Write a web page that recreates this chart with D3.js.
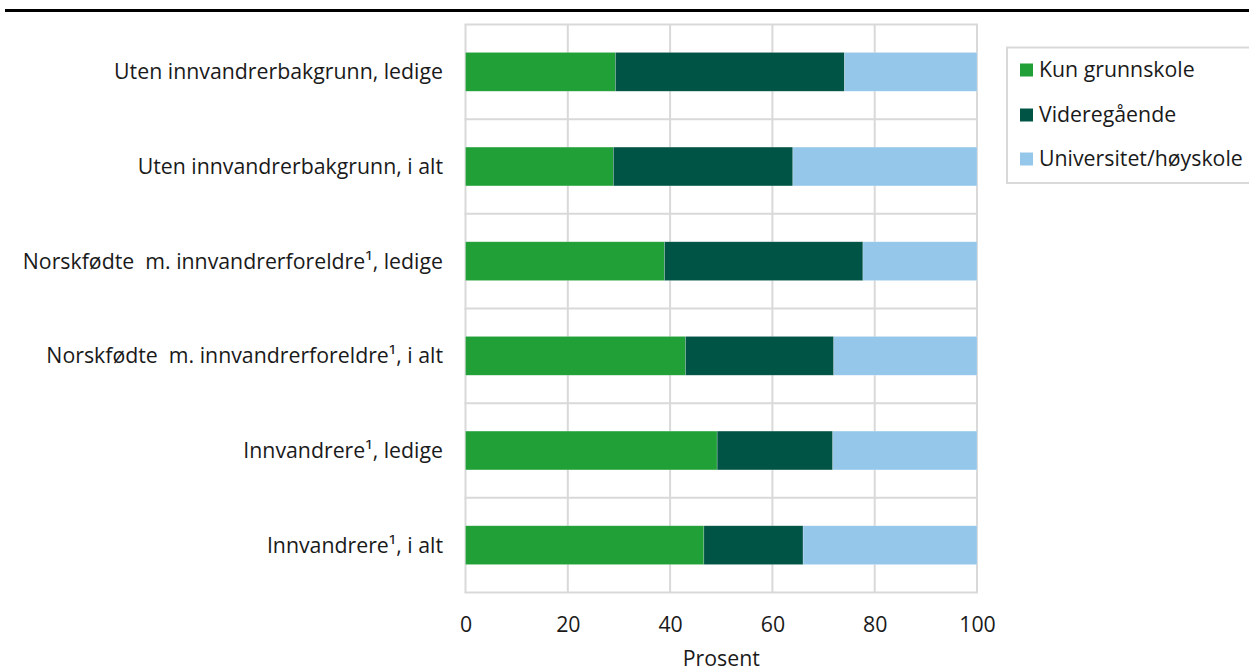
<!DOCTYPE html>
<html>
<head>
<meta charset="utf-8">
<script src="https://cdn.jsdelivr.net/npm/d3@7"></script>
<style>
  html, body { margin: 0; padding: 0; background: #fff; }
  svg { display: block; font-family: "Open Sans", sans-serif; }
  text { white-space: pre; }
</style>
</head>
<body>
<svg id="chart" width="1249" height="671"></svg>
<script>
const categories = [
  "Uten innvandrerbakgrunn, ledige",
  "Uten innvandrerbakgrunn, i alt",
  "Norskfødte  m. innvandrerforeldre¹, ledige",
  "Norskfødte  m. innvandrerforeldre¹, i alt",
  "Innvandrere¹, ledige",
  "Innvandrere¹, i alt"
];
const seriesNames = ["Kun grunnskole", "Videregående", "Universitet/høyskole"];
const kunGrunnskole = [29.3, 28.9, 38.9, 43.0, 49.2, 46.6];
const videregaende  = [44.8, 35.1, 38.8, 29.0, 22.6, 19.4];
const universitet   = [25.9, 36.0, 22.3, 28.0, 28.2, 34.0];
const xTicks = [0, 20, 40, 60, 80, 100];
const colors = ["#21a038", "#005445", "#95c7eb"];

(function () {
const svg = d3.select("#chart");
const pLeft = 465.5, pRight = 977, pTop = 24.5, pBottom = 592.5;
const fs = 21.3;

svg.append("line").attr("x1", 5).attr("x2", 1249).attr("y1", 10.5).attr("y2", 10.5)
  .attr("stroke", "#000").attr("stroke-width", 3);

const x = d3.scaleLinear().domain([0, 100]).range([pLeft, pRight]);
const y = d3.scaleBand().domain(categories).range([pTop, pBottom])
  .paddingInner(0.59).paddingOuter(0.295);
const step = y.step();

const data = categories.map((c, i) => ({cat: c, vals: [kunGrunnskole[i], videregaende[i], universitet[i]]}));
const stack = d3.stack().keys([0, 1, 2]).value((d, k) => d.vals[k]);
const stacked = stack(data);

const grid = svg.append("g");
grid.selectAll("line.v").data(xTicks).join("line")
  .attr("class", "v")
  .attr("x1", d => x(d)).attr("x2", d => x(d))
  .attr("y1", pTop).attr("y2", pBottom)
  .attr("stroke", "#d9d9d9").attr("stroke-width", 2);
const bounds = d3.range(categories.length + 1).map(i => pTop + i * step);
grid.selectAll("line.h").data(bounds).join("line")
  .attr("class", "h")
  .attr("x1", pLeft - 1).attr("x2", pRight + 1)
  .attr("y1", d => d).attr("y2", d => d)
  .attr("stroke", "#d9d9d9").attr("stroke-width", 2);

svg.append("g").selectAll("g").data(stacked).join("g")
  .attr("fill", (d, i) => colors[i])
  .selectAll("rect").data(d => d).join("rect")
  .attr("x", d => x(d[0]))
  .attr("width", d => x(d[1]) - x(d[0]))
  .attr("y", d => y(d.data.cat))
  .attr("height", y.bandwidth())
  .attr("stroke", "rgba(255,255,255,0.35)")
  .attr("stroke-width", 0.6);

svg.append("g").selectAll("text").data(categories).join("text")
  .attr("x", 443)
  .attr("y", d => y(d) + y.bandwidth() / 2)
  .attr("dy", "0.35em")
  .attr("text-anchor", "end")
  .attr("font-size", fs)
  .attr("fill", "#1a1a1a")
  .text(d => d);

const xAxis = d3.axisBottom(x).tickValues(xTicks).tickSize(0).tickPadding(0);
const ax = svg.append("g").attr("transform", `translate(0,${pBottom})`).call(xAxis);
ax.select(".domain").remove();
ax.selectAll("text")
  .attr("font-family", "Open Sans, sans-serif")
  .attr("font-size", fs)
  .attr("fill", "#1a1a1a")
  .attr("y", 39.5)
  .attr("dy", 0);

svg.append("text")
  .attr("x", (pLeft + pRight) / 2).attr("y", 666)
  .attr("text-anchor", "middle")
  .attr("font-size", fs)
  .attr("fill", "#1a1a1a")
  .text("Prosent");

const lg = svg.append("g");
lg.append("path")
  .attr("d", "M1250,47.5 H1007 V183 H1250")
  .attr("fill", "none").attr("stroke", "#d9d9d9").attr("stroke-width", 2);
const legendY = [70, 115, 159];
const items = lg.selectAll("g.item").data(seriesNames).join("g")
  .attr("class", "item")
  .attr("transform", (d, i) => `translate(1020,${legendY[i]})`);
items.append("rect")
  .attr("x", 0).attr("y", -6.5).attr("width", 13).attr("height", 13)
  .attr("fill", (d, i) => colors[i]);
items.append("text")
  .attr("x", 19).attr("y", 0).attr("dy", "0.35em")
  .attr("font-size", fs).attr("fill", "#1a1a1a")
  .text(d => d);
})();
</script>
</body>
</html>
